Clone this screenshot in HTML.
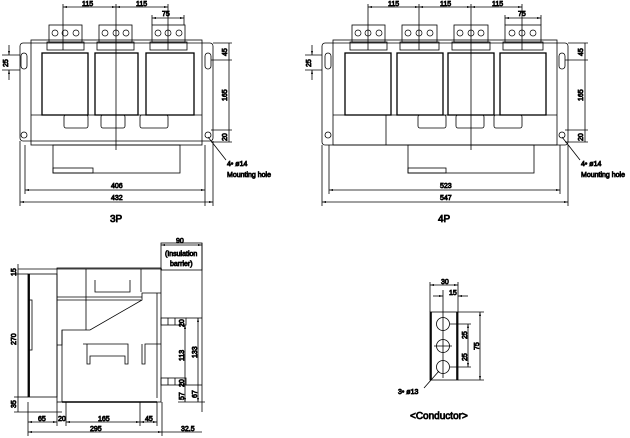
<!DOCTYPE html>
<html><head><meta charset="utf-8"><style>
html,body{margin:0;padding:0;background:#fff;width:630px;height:438px;overflow:hidden}
svg{display:block}
text{font-family:"Liberation Sans",sans-serif;font-size:7px;fill:#000}
.t{font-size:10px}
</style></head><body>
<svg width="630" height="438" viewBox="0 0 630 438" stroke="#000" fill="none" stroke-width="0.8">
<defs><marker id="a" viewBox="0 0 6 6" refX="6" refY="3" markerWidth="5" markerHeight="5" orient="auto-start-reverse"><path d="M0,1.5L6,3L0,4.5z" fill="#000" stroke="none"/></marker></defs>

<!-- ===== 3P ===== -->
<g>
<rect x="20" y="43" width="193" height="98" rx="3"/>
<rect x="31" y="40" width="171" height="105"/>
<line x1="31" y1="115" x2="202" y2="115"/>
<rect x="42" y="53" width="46" height="62" stroke-width="1.3"/>
<rect x="95" y="53" width="43" height="62" stroke-width="1.3"/>
<rect x="146" y="53" width="48" height="62" stroke-width="1.3"/>
<rect x="49" y="25" width="33" height="17"/><rect x="47" y="42" width="37" height="8"/>
<rect x="99" y="25" width="33" height="17"/><rect x="97" y="42" width="37" height="8"/>
<rect x="152" y="25" width="33" height="17"/><rect x="150" y="42" width="37" height="8"/>
<g stroke-width="0.7">
<circle cx="55" cy="33" r="3"/><circle cx="65" cy="33" r="3"/><circle cx="76" cy="33" r="3"/>
<circle cx="105" cy="33" r="3"/><circle cx="116" cy="33" r="3"/><circle cx="126" cy="33" r="3"/>
<circle cx="158" cy="33" r="3"/><circle cx="168" cy="33" r="3"/><circle cx="179" cy="33" r="3"/>
</g>
<rect x="64" y="115" width="24" height="13" rx="2"/><rect x="101" y="115" width="24" height="13" rx="2"/><rect x="140" y="115" width="28" height="13" rx="2"/>
<rect x="53" y="145" width="127" height="28"/><rect x="53" y="168" width="40" height="5"/>
<rect x="21" y="53" width="6" height="16" rx="3"/><rect x="205" y="53" width="6" height="16" rx="3"/>
<circle cx="24" cy="135" r="3"/><circle cx="208" cy="135" r="3"/>
<line x1="116" y1="4" x2="116" y2="150"/><line x1="63" y1="4" x2="63" y2="50"/><line x1="168" y1="4" x2="168" y2="50"/>
<line x1="63" y1="7" x2="116" y2="7" marker-start="url(#a)" marker-end="url(#a)"/>
<line x1="116" y1="7" x2="168" y2="7" marker-start="url(#a)" marker-end="url(#a)"/>
<line x1="152" y1="15" x2="152" y2="25"/><line x1="184" y1="15" x2="184" y2="25"/>
<line x1="152" y1="18" x2="184" y2="18" marker-start="url(#a)" marker-end="url(#a)"/>
<text x="82" y="6">115</text><text x="136" y="6">115</text><text x="162" y="16">75</text>
<line x1="2" y1="55" x2="20" y2="55"/><line x1="2" y1="70" x2="20" y2="70"/>
<line x1="9" y1="45" x2="9" y2="55" marker-end="url(#a)"/><line x1="9" y1="80" x2="9" y2="70" marker-end="url(#a)"/>
<text transform="translate(8,67) rotate(-90)">25</text>
<line x1="213" y1="43" x2="232" y2="43"/><line x1="211" y1="60" x2="232" y2="60"/><line x1="211" y1="130" x2="232" y2="130"/><line x1="211" y1="142" x2="232" y2="142"/>
<line x1="229" y1="43" x2="229" y2="142"/>
<text transform="translate(227,56) rotate(-90)">45</text><text transform="translate(227,101) rotate(-90)">165</text><text transform="translate(227,141) rotate(-90)">20</text>
<line x1="25" y1="145" x2="25" y2="194"/><line x1="205" y1="145" x2="205" y2="206"/><line x1="20" y1="141" x2="20" y2="206"/><line x1="213" y1="141" x2="213" y2="206"/>
<line x1="25" y1="190" x2="205" y2="190" marker-start="url(#a)" marker-end="url(#a)"/>
<line x1="20" y1="202" x2="213" y2="202" marker-start="url(#a)" marker-end="url(#a)"/>
<text x="111" y="188">406</text><text x="111" y="200">432</text>
<line x1="208" y1="137" x2="226" y2="160"/>
<text x="227" y="166">4• ø14</text><text x="227" y="177">Mounting hole</text>
<text class="t" x="110" y="222">3P</text>
</g>

<!-- ===== 4P ===== -->
<g>
<rect x="322" y="43" width="246" height="102" rx="3"/>
<rect x="333" y="40" width="224" height="105"/>
<line x1="333" y1="115" x2="557" y2="115"/>
<rect x="345" y="53" width="46" height="62" stroke-width="1.3"/>
<rect x="397" y="53" width="46" height="62" stroke-width="1.3"/>
<rect x="448" y="53" width="46" height="62" stroke-width="1.3"/>
<rect x="500" y="53" width="46" height="62" stroke-width="1.3"/>
<rect x="352" y="25" width="33" height="17"/><rect x="350" y="42" width="37" height="8"/>
<rect x="402" y="25" width="35" height="17"/><rect x="400" y="42" width="39" height="8"/>
<rect x="454" y="25" width="34" height="17"/><rect x="452" y="42" width="38" height="8"/>
<rect x="505" y="25" width="36" height="17"/><rect x="503" y="42" width="40" height="8"/>
<g stroke-width="0.7">
<circle cx="358" cy="33" r="3"/><circle cx="368" cy="33" r="3"/><circle cx="379" cy="33" r="3"/>
<circle cx="408" cy="33" r="3"/><circle cx="419" cy="33" r="3"/><circle cx="430" cy="33" r="3"/>
<circle cx="460" cy="33" r="3"/><circle cx="471" cy="33" r="3"/><circle cx="481" cy="33" r="3"/>
<circle cx="512" cy="33" r="3"/><circle cx="522" cy="33" r="3"/><circle cx="533" cy="33" r="3"/>
</g>
<rect x="418" y="115" width="28" height="13" rx="2"/><rect x="456" y="115" width="28" height="13" rx="2"/><rect x="494" y="115" width="28" height="13" rx="2"/>
<rect x="408" y="145" width="126" height="28"/><rect x="408" y="168" width="38" height="5"/>
<rect x="325" y="53" width="6" height="16" rx="3"/><rect x="559" y="53" width="6" height="16" rx="3"/>
<circle cx="328" cy="135" r="3"/><circle cx="562" cy="135" r="3"/>
<line x1="368" y1="4" x2="368" y2="50"/><line x1="419" y1="4" x2="419" y2="50"/><line x1="471" y1="4" x2="471" y2="150"/><line x1="522" y1="4" x2="522" y2="50"/>
<line x1="386" y1="115" x2="386" y2="145"/>
<line x1="368" y1="7" x2="419" y2="7" marker-start="url(#a)" marker-end="url(#a)"/>
<line x1="419" y1="7" x2="471" y2="7" marker-start="url(#a)" marker-end="url(#a)"/>
<line x1="471" y1="7" x2="522" y2="7" marker-start="url(#a)" marker-end="url(#a)"/>
<line x1="505" y1="15" x2="505" y2="25"/><line x1="541" y1="15" x2="541" y2="25"/>
<line x1="505" y1="18" x2="541" y2="18" marker-start="url(#a)" marker-end="url(#a)"/>
<text x="388" y="6">115</text><text x="440" y="6">115</text><text x="492" y="6">115</text><text x="518" y="16">75</text>
<line x1="305" y1="55" x2="322" y2="55"/><line x1="305" y1="70" x2="322" y2="70"/>
<line x1="312" y1="45" x2="312" y2="55" marker-end="url(#a)"/><line x1="312" y1="80" x2="312" y2="70" marker-end="url(#a)"/>
<text transform="translate(311,67) rotate(-90)">25</text>
<line x1="568" y1="43" x2="588" y2="43"/><line x1="565" y1="60" x2="588" y2="60"/><line x1="565" y1="130" x2="588" y2="130"/><line x1="565" y1="142" x2="588" y2="142"/>
<line x1="585" y1="43" x2="585" y2="142"/>
<text transform="translate(583,56) rotate(-90)">45</text><text transform="translate(583,101) rotate(-90)">165</text><text transform="translate(583,141) rotate(-90)">20</text>
<line x1="329" y1="145" x2="329" y2="194"/><line x1="560" y1="145" x2="560" y2="194"/><line x1="322" y1="145" x2="322" y2="206"/><line x1="568" y1="145" x2="568" y2="206"/>
<line x1="329" y1="190" x2="560" y2="190" marker-start="url(#a)" marker-end="url(#a)"/>
<line x1="322" y1="202" x2="568" y2="202" marker-start="url(#a)" marker-end="url(#a)"/>
<text x="440" y="188">523</text><text x="440" y="200">547</text>
<line x1="562" y1="137" x2="580" y2="160"/>
<text x="581" y="166">4• ø14</text><text x="581" y="177">Mounting hole</text>
<text class="t" x="438" y="222">4P</text>
</g>

<!-- ===== Side view ===== -->
<g>
<line x1="18" y1="269" x2="162" y2="269"/>
<rect x="28" y="274" width="29" height="123"/>
<line x1="29" y1="274" x2="29" y2="397" stroke-width="1.8"/>
<rect x="29" y="300" width="3" height="50"/>
<rect x="57" y="268" width="104" height="134"/>
<line x1="57" y1="297" x2="142" y2="297"/><line x1="57" y1="300" x2="141" y2="300"/>
<line x1="86" y1="269" x2="86" y2="330"/><line x1="141" y1="269" x2="141" y2="292"/>
<path d="M95,280 V292 H130 V280"/>
<path d="M161,293 H142 V300 L90,330 H62 V345 H57"/>
<path d="M62,330 V402"/>
<path d="M83,344 H128 V364 H125 V356 H90 V364 H87 V344"/>
<path d="M161,344 H145 V364 H142 V344"/>
<line x1="157" y1="293" x2="157" y2="398"/>
<rect x="161" y="318" width="25" height="7"/><rect x="161" y="378" width="25" height="7"/>
<line x1="168" y1="318" x2="168" y2="325"/><line x1="175" y1="318" x2="175" y2="325"/>
<line x1="168" y1="378" x2="168" y2="385"/><line x1="175" y1="378" x2="175" y2="385"/>
<line x1="62" y1="402" x2="157" y2="402" stroke-width="1.6"/>
<rect x="161" y="243" width="41" height="27"/>
<line x1="202" y1="243" x2="202" y2="412"/>
<line x1="161" y1="245" x2="202" y2="245" marker-start="url(#a)" marker-end="url(#a)"/>
<text x="176" y="243">90</text><text x="165" y="256">(Insulation</text><text x="170" y="266">barrier)</text>
<line x1="186" y1="318" x2="202" y2="318"/><line x1="186" y1="385" x2="202" y2="385"/>
<line x1="185" y1="325" x2="185" y2="402" marker-start="url(#a)" marker-end="url(#a)"/>
<line x1="198" y1="318" x2="198" y2="402" marker-start="url(#a)" marker-end="url(#a)"/>
<line x1="178" y1="402" x2="205" y2="402"/>
<text transform="translate(184,327) rotate(-90)">20</text><text transform="translate(184,361) rotate(-90)">113</text>
<text transform="translate(184,387) rotate(-90)">20</text><text transform="translate(184,400) rotate(-90)">57</text>
<text transform="translate(197,358) rotate(-90)">133</text><text transform="translate(197,398) rotate(-90)">67</text>
<line x1="18" y1="264" x2="18" y2="412"/>
<text transform="translate(16,276) rotate(-90)">15</text>
<text transform="translate(16,345) rotate(-90)">270</text>
<text transform="translate(16,408) rotate(-90)">35</text>
<line x1="14" y1="274" x2="28" y2="274"/><line x1="14" y1="397" x2="28" y2="397"/><line x1="14" y1="412" x2="62" y2="412"/>
<line x1="28" y1="402" x2="28" y2="436"/><line x1="57" y1="402" x2="57" y2="426"/><line x1="66" y1="402" x2="66" y2="426"/><line x1="140" y1="402" x2="140" y2="426"/><line x1="157" y1="402" x2="157" y2="426"/><line x1="162" y1="402" x2="162" y2="436"/>
<line x1="28" y1="422" x2="57" y2="422" marker-start="url(#a)" marker-end="url(#a)"/>
<line x1="66" y1="422" x2="140" y2="422" marker-start="url(#a)" marker-end="url(#a)"/>
<line x1="140" y1="422" x2="157" y2="422" marker-start="url(#a)" marker-end="url(#a)"/>
<line x1="28" y1="432" x2="162" y2="432" marker-start="url(#a)" marker-end="url(#a)"/>
<line x1="162" y1="432" x2="202" y2="432"/>
<text x="38" y="421">65</text><text x="58" y="421">20</text><text x="98" y="421">165</text><text x="145" y="421">45</text>
<text x="90" y="431">295</text><text x="181" y="431">32.5</text>
</g>

<!-- ===== Conductor ===== -->
<g>
<rect x="430" y="312" width="28" height="68"/>
<line x1="431" y1="312" x2="431" y2="380" stroke-width="1.6"/><line x1="457" y1="312" x2="457" y2="380" stroke-width="1.6"/>
<circle cx="443" cy="324" r="6.5"/><circle cx="443" cy="346" r="6.5"/><circle cx="443" cy="367" r="6.5"/>
<line x1="434" y1="346" x2="452" y2="346"/><line x1="443" y1="290" x2="443" y2="378"/>
<line x1="430" y1="282" x2="430" y2="312"/><line x1="458" y1="282" x2="458" y2="312"/>
<line x1="430" y1="285" x2="458" y2="285" marker-start="url(#a)" marker-end="url(#a)"/>
<line x1="433" y1="296" x2="443" y2="296" marker-end="url(#a)"/><line x1="468" y1="296" x2="458" y2="296" marker-end="url(#a)"/>
<text x="441" y="284">30</text><text x="449" y="295">15</text>
<line x1="450" y1="324" x2="471" y2="324"/><line x1="450" y1="367" x2="471" y2="367"/><line x1="458" y1="312" x2="484" y2="312"/><line x1="458" y1="380" x2="484" y2="380"/>
<line x1="468" y1="324" x2="468" y2="367" marker-start="url(#a)" marker-end="url(#a)"/>
<line x1="480" y1="312" x2="480" y2="380" marker-start="url(#a)" marker-end="url(#a)"/>
<text transform="translate(467,339) rotate(-90)">25</text><text transform="translate(467,361) rotate(-90)">25</text><text transform="translate(479,350) rotate(-90)">75</text>
<line x1="439" y1="371" x2="424" y2="388"/>
<text x="398" y="394">3• ø13</text>
<text class="t" x="410" y="419">&lt;Conductor&gt;</text>
</g>
</svg>
</body></html>
